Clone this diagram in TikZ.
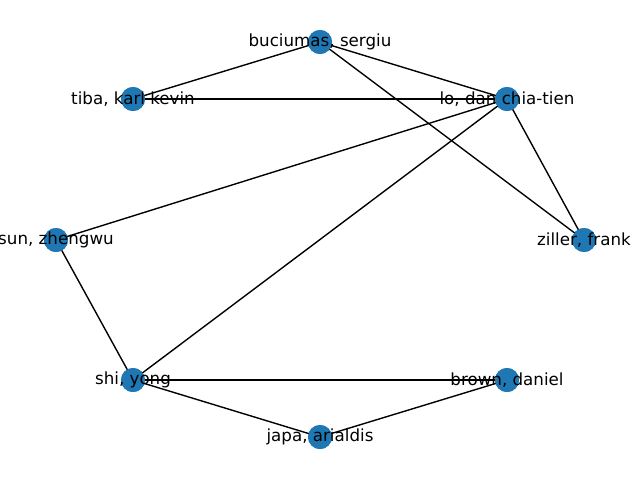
\documentclass[tikz,border=0pt]{standalone}
\usepackage{fontspec}
\setmainfont{DejaVu Sans}
\definecolor{nxblue}{HTML}{1F77B4}

\begin{document}
\begin{tikzpicture}[x=1pt, y=-1pt,
    person/.style={circle, fill=nxblue, minimum size=24pt, inner sep=0pt},
    authorname/.style={font=\fontsize{16.7}{20}\selectfont, inner sep=0pt},
    tie/.style={line width=1.39pt}]

  \useasboundingbox (0,0) rectangle (640,480);

  % people
  \node[person] (buciumas) at (320, 42) {};
  \node[person] (tiba)     at (133, 99) {};
  \node[person] (lo)       at (507, 99) {};
  \node[person] (sun)      at ( 56,240) {};
  \node[person] (ziller)   at (584,240) {};
  \node[person] (shi)      at (133,380) {};
  \node[person] (brown)    at (507,380) {};
  \node[person] (japa)     at (320,437) {};

  % co-authorship
  \draw[tie] (buciumas.center) -- (tiba.center);
  \draw[tie] (buciumas.center) -- (lo.center);
  \draw[tie] (buciumas.center) -- (ziller.center);
  \draw[tie] (tiba.center) -- (lo.center);
  \draw[tie] (lo.center) -- (sun.center);
  \draw[tie] (lo.center) -- (shi.center);
  \draw[tie] (lo.center) -- (ziller.center);
  \draw[tie] (sun.center) -- (shi.center);
  \draw[tie] (shi.center) -- (brown.center);
  \draw[tie] (shi.center) -- (japa.center);
  \draw[tie] (japa.center) -- (brown.center);

  % redraw discs over the lines, then the names
  \foreach \who in {buciumas, tiba, lo, sun, ziller, shi, brown, japa}
    \fill[nxblue] (\who) circle (12pt);

  \node[authorname] at (buciumas) {buciumas, sergiu};
  \node[authorname] at (tiba)     {tiba, karl kevin};
  \node[authorname] at (lo)       {lo, dan chia-tien};
  \node[authorname] at (sun)      {sun, zhengwu};
  \node[authorname] at (ziller)   {ziller, frank};
  \node[authorname] at (shi)      {shi, yong};
  \node[authorname] at (brown)    {brown, daniel};
  \node[authorname] at (japa)     {japa, arialdis};
\end{tikzpicture}
\end{document}
